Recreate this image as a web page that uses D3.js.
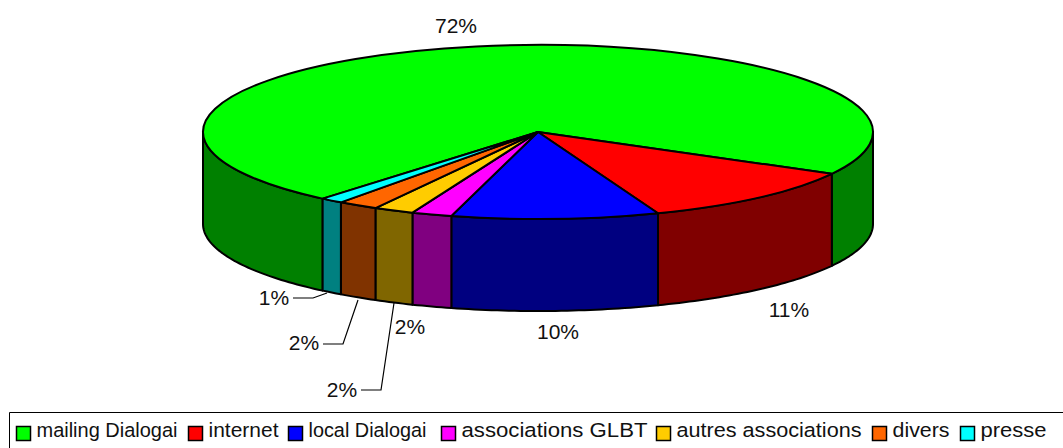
<!DOCTYPE html>
<html><head><meta charset="utf-8">
<script src="https://d3js.org/d3.v7.min.js"></script>
<style>html,body{margin:0;padding:0;background:#fff}svg{display:block}text{font-family:"Liberation Sans",Arial,sans-serif;fill:#111}</style>
</head><body><svg id="c" width="1063" height="448"></svg>
<script>
const categories=["mailing Dialogai","internet","local Dialogai","associations GLBT","autres associations","divers","presse"];
const values=[71.9,11.2,10,1.95,1.95,1.95,1.1];
const labels=["72%","11%","10%","2%","2%","2%","1%"];
const topColors=["#00ff00","#ff0000","#0000ff","#ff00ff","#ffcc00","#ff6600","#00ffff"];
const wallColors=["#008000","#800000","#000080","#800080","#806600","#803300","#008080"];

const W=1063,H=448,cx=538,cy=132,rx=335,ry=87,depth=92;
const svg=d3.select("#c");
const deg=Math.PI/180;
const pie=d3.pie().sort(null).value(d=>d).startAngle(220*deg).endAngle(580*deg);
const arcs=pie(values);
const px=t=>cx+rx*Math.cos(t), py=t=>cy+ry*Math.sin(t);
const toT=a=>a-Math.PI/2;
const line=d3.line();
function wall(t0,t1,color){
  const n=Math.max(2,Math.ceil((t1-t0)/deg));
  const ts=d3.range(n+1).map(i=>t0+(t1-t0)*i/n);
  const pts=ts.map(t=>[px(t),py(t)]).concat(ts.slice().reverse().map(t=>[px(t),py(t)+depth]));
  svg.append("path").attr("d",line(pts)+"Z").attr("fill",color).attr("stroke","#000").attr("stroke-width",2).attr("stroke-linejoin","round");
}
arcs.forEach((a,i)=>{
  let t0=toT(a.startAngle),t1=toT(a.endAngle);
  [[t0,t1],[t0-2*Math.PI,t1-2*Math.PI]].forEach(([s,e])=>{
    const u=Math.max(s,0),v=Math.min(e,Math.PI);
    if(v>u) wall(u,v,wallColors[i]);
  });
});
const arc=d3.arc().innerRadius(0).outerRadius(rx);
const topG=svg.append("g").attr("transform",`translate(${cx},${cy}) scale(1,${ry/rx})`);
topG.selectAll("path").data(arcs).join("path").attr("d",arc)
  .attr("fill",(d,i)=>topColors[i]).attr("stroke","#000").attr("stroke-width",2)
  .attr("stroke-linejoin","round").attr("vector-effect","non-scaling-stroke");

const labelAt=[[456,25],[789,309],[558,331],[410,326],[342,389],[304,342],[274,297]];
svg.selectAll("text.lab").data(labels).join("text").attr("class","lab")
  .attr("x",(d,i)=>labelAt[i][0]).attr("y",(d,i)=>labelAt[i][1]).attr("dy","0.36em")
  .attr("text-anchor","middle").attr("font-size",21).text(d=>d);
[[[361,390],[381,390],[394,303]],[[323,344],[343,344],[358,300]],[[293,298],[313,298],[327,293]]].forEach(p=>{
  svg.append("path").attr("d",line(p)).attr("fill","none").attr("stroke","#000").attr("stroke-width",1.2);
});

svg.append("path").attr("d",line([[9.5,H+2],[9.5,412.5],[W+2,412.5]])).attr("fill","none").attr("stroke","#000").attr("stroke-width",1);
const legendLeft=[16,188,288,441,656,872,960];
const legendTextWidth=[141,70,118,186,185,57,66];
categories.forEach((c,i)=>{
  svg.append("rect").attr("x",legendLeft[i]+.5).attr("y",426.5).attr("width",14).attr("height",14)
    .attr("fill",topColors[i]).attr("stroke","#000").attr("stroke-width",1.5);
  svg.append("text").attr("x",legendLeft[i]+20.5).attr("y",437).attr("font-size",20.5)
    .attr("textLength",legendTextWidth[i]).attr("lengthAdjust","spacingAndGlyphs").text(c);
});
</script></body></html>
